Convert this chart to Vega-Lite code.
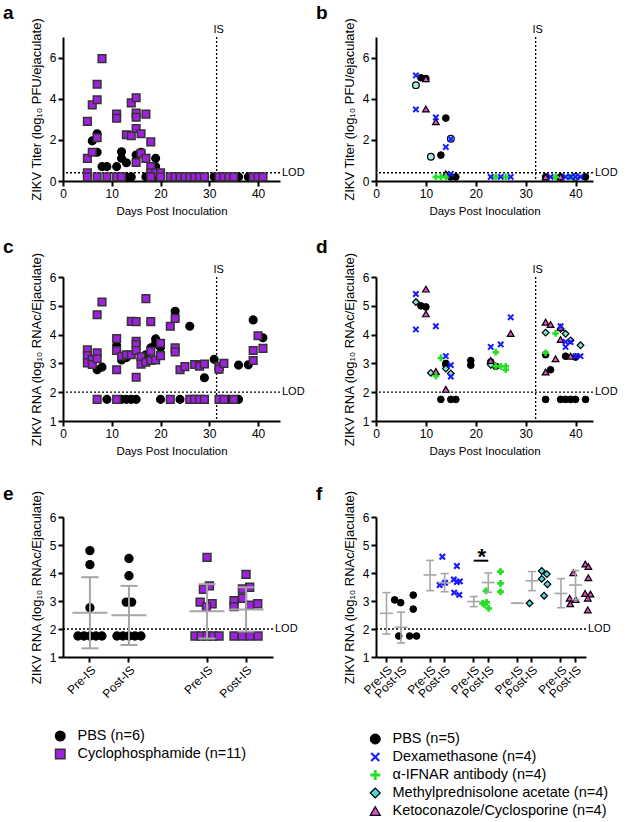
{
"$schema": "https://vega.github.io/schema/vega-lite/v6.json",
"background": "white",
"padding": {"left": 3, "top": 3, "right": 0, "bottom": 0},
"columns": 2,
"spacing": {"row": 96, "column": 96},
"bounds": "flush",
"resolve": {"scale": {"shape": "independent", "fill": "independent", "stroke": "independent", "strokeWidth": "independent"}},
"config": {
  "font": "Liberation Sans",
  "view": {"stroke": null},
  "axis": {"grid": false, "domainColor": "#000", "domainWidth": 2, "tickColor": "#000", "tickWidth": 2, "tickSize": 5, "labelColor": "#000", "labelFontSize": 12, "labelFont": "Liberation Sans", "titleFont": "Liberation Sans", "titleFontSize": 11.5, "titleFontWeight": "normal", "titleColor": "#000", "labelPadding": 2, "labelFlush": false, "labelOverlap": false},
  "axisY": {"titlePadding": 6, "titleFontSize": 13, "tickCount": 12},
  "axisX": {"titlePadding": 6},
  "title": {"fontSize": 19, "fontWeight": "bold", "anchor": "start", "frame": "group", "dx": -60, "offset": -5, "color": "#000", "font": "Liberation Sans"},
  "legend": {"labelFont": "Liberation Sans", "labelColor": "#000", "labelFontSize": 14.5, "labelLimit": 400, "rowPadding": 0, "padding": 0, "labelOffset": 10, "title": null, "clipHeight": 18}
},
"datasets": {
  "a": [
    {"g":"P","d":6,"v":1.95},{"g":"P","d":7,"v":2.3},{"g":"P","d":7,"v":1.4},{"g":"P","d":8,"v":0.7},{"g":"P","d":9,"v":0.7},{"g":"P","d":11,"v":0.7},{"g":"P","d":12,"v":1.42},{"g":"P","d":12,"v":1.1},{"g":"P","d":13,"v":0.89},{"g":"P","d":15,"v":1.26},{"g":"P","d":16,"v":1.4},{"g":"P","d":19,"v":1.1},{"g":"P","d":19,"v":0.7},{"g":"P","d":13,"v":0.2},{"g":"P","d":14,"v":0.2},{"g":"P","d":17,"v":0.2},{"g":"P","d":19,"v":0.2},{"g":"P","d":31,"v":0.2},{"g":"P","d":36,"v":0.2},{"g":"P","d":38,"v":0.2},
    {"g":"C","d":5,"v":2.9},{"g":"C","d":5,"v":1.1},{"g":"C","d":5,"v":0.4},{"g":"C","d":5,"v":0.2},{"g":"C","d":6,"v":3.7},{"g":"C","d":6,"v":1.4},{"g":"C","d":7,"v":4.7},{"g":"C","d":7,"v":3.95},{"g":"C","d":7,"v":2.1},{"g":"C","d":7,"v":0.2},{"g":"C","d":8,"v":5.95},{"g":"C","d":9,"v":0.2},{"g":"C","d":11,"v":3.25},{"g":"C","d":11,"v":3.05},{"g":"C","d":11,"v":0.2},{"g":"C","d":12,"v":0.2},{"g":"C","d":13,"v":2.25},{"g":"C","d":14,"v":3.8},{"g":"C","d":14,"v":2.2},{"g":"C","d":15,"v":4.05},{"g":"C","d":15,"v":3.3},{"g":"C","d":15,"v":3.1},{"g":"C","d":15,"v":2.55},{"g":"C","d":15,"v":0.9},{"g":"C","d":16,"v":2.3},{"g":"C","d":16,"v":1.35},{"g":"C","d":17,"v":3.25},{"g":"C","d":17,"v":1.1},{"g":"C","d":18,"v":1.9},{"g":"C","d":18,"v":0.7},{"g":"C","d":18,"v":0.4},{"g":"C","d":19,"v":0.4},{"g":"C","d":20,"v":0.4},{"g":"C","d":18,"v":0.2},{"g":"C","d":20,"v":0.2},{"g":"C","d":22,"v":0.2},{"g":"C","d":23,"v":0.2},{"g":"C","d":24,"v":0.2},{"g":"C","d":25,"v":0.2},{"g":"C","d":26,"v":0.2},{"g":"C","d":27,"v":0.2},{"g":"C","d":28,"v":0.2},{"g":"C","d":29,"v":0.2},{"g":"C","d":32,"v":0.2},{"g":"C","d":33,"v":0.2},{"g":"C","d":34,"v":0.2},{"g":"C","d":35,"v":0.2},{"g":"C","d":39,"v":0.2},{"g":"C","d":40,"v":0.2},{"g":"C","d":41,"v":0.2}
  ],
  "b": [
    {"g":"P","d":9,"v":5.02},{"g":"P","d":10,"v":4.98},{"g":"P","d":13,"v":1.26},{"g":"P","d":14,"v":3.06},{"g":"P","d":15,"v":0.2},{"g":"P","d":16,"v":0.2},{"g":"P","d":34,"v":0.2},{"g":"P","d":37,"v":0.2},{"g":"P","d":42,"v":0.2},
    {"g":"M","d":8,"v":4.66},{"g":"M","d":11,"v":1.18},{"g":"M","d":15,"v":2.05},{"g":"M","d":40,"v":0.2},
    {"g":"K","d":10,"v":4.97},{"g":"K","d":10,"v":3.5},{"g":"K","d":12,"v":2.88},{"g":"K","d":14,"v":0.35},{"g":"K","d":34,"v":0.2},{"g":"K","d":37,"v":0.2},
    {"g":"I","d":12,"v":0.2},{"g":"I","d":13,"v":0.2},{"g":"I","d":14,"v":0.2},{"g":"I","d":24,"v":0.2},{"g":"I","d":26,"v":0.2},{"g":"I","d":36,"v":0.2},{"g":"I","d":39,"v":0.2},
    {"g":"X","d":8,"v":5.13},{"g":"X","d":8,"v":3.48},{"g":"X","d":12,"v":3.09},{"g":"X","d":14,"v":1.65},{"g":"X","d":15,"v":2.04},{"g":"X","d":15,"v":0.35},{"g":"X","d":23,"v":0.2},{"g":"X","d":25,"v":0.2},{"g":"X","d":27,"v":0.2},{"g":"X","d":35,"v":0.2},{"g":"X","d":38,"v":0.2},{"g":"X","d":39,"v":0.2},{"g":"X","d":40,"v":0.2},{"g":"X","d":41,"v":0.2}
  ],
  "c": [
    {"g":"P","d":7,"v":2.78},{"g":"P","d":8,"v":2.87},{"g":"P","d":11,"v":3.61},{"g":"P","d":12,"v":3.12},{"g":"P","d":13,"v":3.2},{"g":"P","d":16,"v":3.15},{"g":"P","d":17,"v":3.3},{"g":"P","d":18,"v":3.54},{"g":"P","d":19,"v":3.85},{"g":"P","d":19,"v":3.7},{"g":"P","d":20,"v":3.55},{"g":"P","d":23,"v":4.81},{"g":"P","d":26,"v":4.29},{"g":"P","d":29,"v":2.5},{"g":"P","d":31,"v":3.14},{"g":"P","d":32,"v":2.8},{"g":"P","d":36,"v":2.94},{"g":"P","d":38,"v":2.95},{"g":"P","d":39,"v":4.51},{"g":"P","d":41,"v":3.89},
    {"g":"P","d":9,"v":1.75},{"g":"P","d":12,"v":1.75},{"g":"P","d":13,"v":1.75},{"g":"P","d":14,"v":1.75},{"g":"P","d":15,"v":1.75},{"g":"P","d":20,"v":1.75},{"g":"P","d":24,"v":1.75},{"g":"P","d":34,"v":1.75},{"g":"P","d":36,"v":1.75},
    {"g":"C","d":5,"v":3.47},{"g":"C","d":5,"v":3.27},{"g":"C","d":5,"v":3.02},{"g":"C","d":6,"v":3.14},{"g":"C","d":6,"v":2.96},{"g":"C","d":7,"v":4.69},{"g":"C","d":7,"v":3.37},{"g":"C","d":7,"v":3.16},{"g":"C","d":8,"v":5.13},{"g":"C","d":11,"v":3.86},{"g":"C","d":11,"v":3.45},{"g":"C","d":11,"v":2.78},{"g":"C","d":12,"v":3.25},{"g":"C","d":13,"v":3.3},{"g":"C","d":14,"v":3.3},{"g":"C","d":14,"v":4.46},{"g":"C","d":15,"v":4.45},{"g":"C","d":15,"v":3.77},{"g":"C","d":15,"v":3.65},{"g":"C","d":15,"v":3.45},{"g":"C","d":15,"v":2.52},{"g":"C","d":16,"v":3.23},{"g":"C","d":16,"v":2.97},{"g":"C","d":17,"v":5.25},{"g":"C","d":17,"v":3.04},{"g":"C","d":18,"v":4.45},{"g":"C","d":18,"v":3.42},{"g":"C","d":18,"v":3.1},{"g":"C","d":19,"v":3.12},{"g":"C","d":20,"v":3.7},{"g":"C","d":20,"v":3.27},{"g":"C","d":22,"v":4.29},{"g":"C","d":23,"v":4.56},{"g":"C","d":23,"v":3.54},{"g":"C","d":23,"v":3.4},{"g":"C","d":24,"v":2.78},{"g":"C","d":25,"v":2.89},{"g":"C","d":27,"v":2.96},{"g":"C","d":28,"v":2.96},{"g":"C","d":28,"v":2.9},{"g":"C","d":29,"v":2.98},{"g":"C","d":32,"v":2.9},{"g":"C","d":32,"v":2.8},{"g":"C","d":33,"v":3.0},{"g":"C","d":39,"v":3.45},{"g":"C","d":39,"v":3.1},{"g":"C","d":40,"v":3.96},{"g":"C","d":41,"v":3.52},
    {"g":"C","d":7,"v":1.75},{"g":"C","d":11,"v":1.75},{"g":"C","d":22,"v":1.75},{"g":"C","d":26,"v":1.75},{"g":"C","d":27,"v":1.75},{"g":"C","d":28,"v":1.75},{"g":"C","d":29,"v":1.75},{"g":"C","d":32,"v":1.75},{"g":"C","d":33,"v":1.75},{"g":"C","d":35,"v":1.75}
  ],
  "d": [
    {"g":"P","d":9,"v":5.0},{"g":"P","d":10,"v":4.96},{"g":"P","d":14,"v":3.0},{"g":"P","d":14,"v":2.95},{"g":"P","d":19,"v":3.1},{"g":"P","d":19,"v":2.94},{"g":"P","d":23,"v":3.05},{"g":"P","d":24,"v":2.9},{"g":"P","d":34,"v":3.3},{"g":"P","d":35,"v":2.78},{"g":"P","d":38,"v":3.25},{"g":"P","d":40,"v":3.22},
    {"g":"P","d":13,"v":1.75},{"g":"P","d":15,"v":1.75},{"g":"P","d":16,"v":1.75},{"g":"P","d":34,"v":1.75},{"g":"P","d":37,"v":1.75},{"g":"P","d":38,"v":1.75},{"g":"P","d":39,"v":1.75},{"g":"P","d":40,"v":1.75},{"g":"P","d":42,"v":1.75},
    {"g":"M","d":8,"v":5.13},{"g":"M","d":11,"v":2.67},{"g":"M","d":14,"v":2.82},{"g":"M","d":15,"v":2.65},{"g":"M","d":23,"v":2.95},{"g":"M","d":34,"v":4.07},{"g":"M","d":37,"v":4.2},{"g":"M","d":38,"v":4.03},{"g":"M","d":39,"v":3.8},{"g":"M","d":41,"v":3.63},
    {"g":"K","d":10,"v":5.58},{"g":"K","d":10,"v":4.72},{"g":"K","d":12,"v":2.72},{"g":"K","d":14,"v":2.1},{"g":"K","d":23,"v":3.1},{"g":"K","d":27,"v":4.04},{"g":"K","d":34,"v":4.43},{"g":"K","d":34,"v":2.7},{"g":"K","d":35,"v":4.35},{"g":"K","d":36,"v":3.16},{"g":"K","d":37,"v":4.25},{"g":"K","d":37,"v":3.83},{"g":"K","d":39,"v":3.25},
    {"g":"I","d":12,"v":2.56},{"g":"I","d":13,"v":3.19},{"g":"I","d":24,"v":3.39},{"g":"I","d":24,"v":2.9},{"g":"I","d":25,"v":2.9},{"g":"I","d":26,"v":2.9},{"g":"I","d":26,"v":2.78},{"g":"I","d":34,"v":3.37},{"g":"I","d":36,"v":4.04},
    {"g":"X","d":8,"v":5.41},{"g":"X","d":8,"v":4.18},{"g":"X","d":12,"v":4.29},{"g":"X","d":14,"v":3.25},{"g":"X","d":15,"v":2.94},{"g":"X","d":15,"v":2.54},{"g":"X","d":23,"v":3.57},{"g":"X","d":25,"v":3.66},{"g":"X","d":27,"v":4.6},{"g":"X","d":37,"v":4.29},{"g":"X","d":38,"v":3.57},{"g":"X","d":38,"v":3.75},{"g":"X","d":39,"v":3.74},{"g":"X","d":40,"v":3.25},{"g":"X","d":41,"v":3.25}
  ],
  "e": [
    {"g":"P","cat":"PBS|Pre-IS","v":4.8,"j":0},{"g":"P","cat":"PBS|Pre-IS","v":4.3,"j":0},{"g":"P","cat":"PBS|Pre-IS","v":2.76,"j":0},{"g":"P","cat":"PBS|Pre-IS","v":1.75,"j":-2},{"g":"P","cat":"PBS|Pre-IS","v":1.75,"j":-1},{"g":"P","cat":"PBS|Pre-IS","v":1.75,"j":0},{"g":"P","cat":"PBS|Pre-IS","v":1.75,"j":1},{"g":"P","cat":"PBS|Pre-IS","v":1.75,"j":2},
    {"g":"P","cat":"PBS|Post-IS","v":4.52,"j":0},{"g":"P","cat":"PBS|Post-IS","v":3.9,"j":0},{"g":"P","cat":"PBS|Post-IS","v":2.96,"j":-0.45},{"g":"P","cat":"PBS|Post-IS","v":2.96,"j":0.45},{"g":"P","cat":"PBS|Post-IS","v":1.75,"j":-2},{"g":"P","cat":"PBS|Post-IS","v":1.75,"j":-1},{"g":"P","cat":"PBS|Post-IS","v":1.75,"j":0},{"g":"P","cat":"PBS|Post-IS","v":1.75,"j":1},{"g":"P","cat":"PBS|Post-IS","v":1.75,"j":2},
    {"g":"C","cat":"Cyc|Pre-IS","v":4.56,"j":0},{"g":"C","cat":"Cyc|Pre-IS","v":3.54,"j":0.4},{"g":"C","cat":"Cyc|Pre-IS","v":3.42,"j":-0.6},{"g":"C","cat":"Cyc|Pre-IS","v":2.96,"j":-1.15},{"g":"C","cat":"Cyc|Pre-IS","v":2.9,"j":0.85},{"g":"C","cat":"Cyc|Pre-IS","v":2.79,"j":-0.1},{"g":"C","cat":"Cyc|Pre-IS","v":1.75,"j":-2},{"g":"C","cat":"Cyc|Pre-IS","v":1.75,"j":-1},{"g":"C","cat":"Cyc|Pre-IS","v":1.75,"j":0},{"g":"C","cat":"Cyc|Pre-IS","v":1.75,"j":1},{"g":"C","cat":"Cyc|Pre-IS","v":1.75,"j":2},
    {"g":"C","cat":"Cyc|Post-IS","v":3.95,"j":0},{"g":"C","cat":"Cyc|Post-IS","v":3.49,"j":0.6},{"g":"C","cat":"Cyc|Post-IS","v":3.43,"j":-0.6},{"g":"C","cat":"Cyc|Post-IS","v":3.1,"j":-0.6},{"g":"C","cat":"Cyc|Post-IS","v":3.01,"j":-2},{"g":"C","cat":"Cyc|Post-IS","v":2.8,"j":-2},{"g":"C","cat":"Cyc|Post-IS","v":2.85,"j":0.6},{"g":"C","cat":"Cyc|Post-IS","v":2.9,"j":1.95},{"g":"C","cat":"Cyc|Post-IS","v":1.75,"j":-2},{"g":"C","cat":"Cyc|Post-IS","v":1.75,"j":-0.65},{"g":"C","cat":"Cyc|Post-IS","v":1.75,"j":0.65},{"g":"C","cat":"Cyc|Post-IS","v":1.75,"j":2}
  ],
  "es": [
    {"cat":"PBS|Pre-IS","m":2.58,"lo":1.31,"hi":3.85},{"cat":"PBS|Post-IS","m":2.49,"lo":1.43,"hi":3.54},{"cat":"Cyc|Pre-IS","m":2.63,"lo":1.66,"hi":3.6},{"cat":"Cyc|Post-IS","m":2.7,"lo":1.91,"hi":3.49}
  ],
  "f": [
    {"g":"P","cat":"PBS|Pre-IS","v":3.04,"j":-0.67},{"g":"P","cat":"PBS|Pre-IS","v":2.94,"j":0.33},{"g":"P","cat":"PBS|Pre-IS","v":1.75,"j":0},
    {"g":"P","cat":"PBS|Post-IS","v":3.21,"j":0},{"g":"P","cat":"PBS|Post-IS","v":2.71,"j":0},{"g":"P","cat":"PBS|Post-IS","v":1.75,"j":-0.6},{"g":"P","cat":"PBS|Post-IS","v":1.75,"j":0.55},
    {"g":"X","cat":"Dex|Pre-IS","v":4.58,"j":0},{"g":"X","cat":"Dex|Pre-IS","v":3.57,"j":-0.45},{"g":"X","cat":"Dex|Pre-IS","v":3.65,"j":0.45},
    {"g":"X","cat":"Dex|Post-IS","v":4.25,"j":0},{"g":"X","cat":"Dex|Post-IS","v":3.77,"j":-0.5},{"g":"X","cat":"Dex|Post-IS","v":3.7,"j":0.5},{"g":"X","cat":"Dex|Post-IS","v":3.68,"j":0},{"g":"X","cat":"Dex|Post-IS","v":3.3,"j":-0.45},{"g":"X","cat":"Dex|Post-IS","v":3.22,"j":0.4},
    {"g":"I","cat":"IFNAR|Pre-IS","v":3.36,"j":0},{"g":"I","cat":"IFNAR|Pre-IS","v":2.95,"j":0.1},{"g":"I","cat":"IFNAR|Pre-IS","v":2.92,"j":-0.55},{"g":"I","cat":"IFNAR|Pre-IS","v":2.88,"j":-0.25},{"g":"I","cat":"IFNAR|Pre-IS","v":2.74,"j":0.45},
    {"g":"I","cat":"IFNAR|Post-IS","v":4.05,"j":0},{"g":"I","cat":"IFNAR|Post-IS","v":3.63,"j":0},{"g":"I","cat":"IFNAR|Post-IS","v":3.33,"j":0},
    {"g":"M","cat":"MPA|Pre-IS","v":2.92,"j":0},
    {"g":"M","cat":"MPA|Post-IS","v":4.07,"j":-0.4},{"g":"M","cat":"MPA|Post-IS","v":3.96,"j":0.45},{"g":"M","cat":"MPA|Post-IS","v":3.79,"j":-0.4},{"g":"M","cat":"MPA|Post-IS","v":3.6,"j":0.55},{"g":"M","cat":"MPA|Post-IS","v":3.19,"j":0},
    {"g":"K","cat":"KC|Pre-IS","v":4.01,"j":0},{"g":"K","cat":"KC|Pre-IS","v":3.1,"j":-0.6},{"g":"K","cat":"KC|Pre-IS","v":3.05,"j":0.4},{"g":"K","cat":"KC|Pre-IS","v":2.9,"j":-0.5},
    {"g":"K","cat":"KC|Post-IS","v":4.32,"j":-0.4},{"g":"K","cat":"KC|Post-IS","v":4.23,"j":0.1},{"g":"K","cat":"KC|Post-IS","v":3.83,"j":0.1},{"g":"K","cat":"KC|Post-IS","v":3.27,"j":-0.45},{"g":"K","cat":"KC|Post-IS","v":3.25,"j":0.45},{"g":"K","cat":"KC|Post-IS","v":3.1,"j":0},{"g":"K","cat":"KC|Post-IS","v":2.68,"j":0}
  ],
  "fs": [
    {"cat":"PBS|Pre-IS","m":2.56,"lo":1.82,"hi":3.3},{"cat":"PBS|Post-IS","m":2.06,"lo":1.5,"hi":2.6},{"cat":"Dex|Pre-IS","m":3.93,"lo":3.37,"hi":4.45},{"cat":"Dex|Post-IS","m":3.65,"lo":3.33,"hi":3.98},{"cat":"IFNAR|Pre-IS","m":2.98,"lo":2.8,"hi":3.16},{"cat":"IFNAR|Post-IS","m":3.66,"lo":3.31,"hi":4.0},{"cat":"MPA|Pre-IS","m":2.92,"lo":2.92,"hi":2.92},{"cat":"MPA|Post-IS","m":3.72,"lo":3.37,"hi":4.05},{"cat":"KC|Pre-IS","m":3.27,"lo":2.76,"hi":3.8},{"cat":"KC|Post-IS","m":3.57,"lo":3.05,"hi":4.09}
  ]
},
"concat": [
  {
    "width": 217, "height": 144,
    "title": {"text": "a"},
    "layer": [
      {"data": {"values": [{}]}, "mark": {"type": "rule", "strokeDash": [2, 2], "strokeWidth": 1.3, "color": "#000"}, "encoding": {"x": {"datum": 31.5}}},
      {"data": {"values": [{}]}, "mark": {"type": "text", "text": "IS", "align": "center", "baseline": "bottom", "dx": 2, "dy": -2, "fontSize": 11, "color": "#000"}, "encoding": {"x": {"datum": 31.5}, "y": {"datum": 7}}},
      {"data": {"values": [{}]}, "mark": {"type": "rule", "strokeDash": [2, 2], "strokeWidth": 1.3, "color": "#000"}, "encoding": {"y": {"datum": 0.4}}},
      {"data": {"values": [{}]}, "mark": {"type": "text", "text": "LOD", "align": "left", "baseline": "middle", "dx": 2, "fontSize": 11, "color": "#000"}, "encoding": {"x": {"value": "width"}, "y": {"datum": 0.4}}},
      {"data": {"name": "a"}, "mark": {"type": "point", "filled": true, "size": 58, "strokeWidth": 1.5, "opacity": 1},
       "encoding": {
        "x": {"field": "d", "type": "quantitative", "scale": {"domain": [0, 44.5], "nice": false, "zero": false}, "axis": {"values": [0, 10, 20, 30, 40], "tickCount": 12, "format": "d", "labelOverlap": false}, "title": "Days Post Inoculation"},
        "y": {"field": "v", "type": "quantitative", "scale": {"domain": [0, 7], "nice": false}, "axis": {"values": [0, 2, 4, 6], "tickCount": 12, "format": "d", "labelOverlap": false}, "title": "ZIKV Titer (log₁₀ PFU/ejaculate)"},
        "shape": {"field": "g", "type": "nominal", "scale": {"domain": ["P", "C"], "range": ["circle", "square"]}, "legend": null},
        "fill": {"field": "g", "type": "nominal", "scale": {"domain": ["P", "C"], "range": ["#000000", "#a020e0"]}, "legend": null},
        "stroke": {"field": "g", "type": "nominal", "scale": {"domain": ["P", "C"], "range": ["#000000", "#333333"]}, "legend": null}
       }}
    ]
  },
  {
    "width": 217, "height": 144,
    "title": {"text": "b"},
    "layer": [
      {"data": {"values": [{}]}, "mark": {"type": "rule", "strokeDash": [2, 2], "strokeWidth": 1.3, "color": "#000"}, "encoding": {"x": {"datum": 32}}},
      {"data": {"values": [{}]}, "mark": {"type": "text", "text": "IS", "align": "center", "baseline": "bottom", "dx": 2, "dy": -2, "fontSize": 11, "color": "#000"}, "encoding": {"x": {"datum": 32}, "y": {"datum": 7}}},
      {"data": {"values": [{}]}, "mark": {"type": "rule", "strokeDash": [2, 2], "strokeWidth": 1.3, "color": "#000"}, "encoding": {"y": {"datum": 0.4}}},
      {"data": {"values": [{}]}, "mark": {"type": "text", "text": "LOD", "align": "left", "baseline": "middle", "dx": 2, "fontSize": 11, "color": "#000"}, "encoding": {"x": {"value": "width"}, "y": {"datum": 0.4}}},
      {"data": {"name": "b"}, "mark": {"type": "point", "filled": true, "size": 45, "opacity": 1},
       "encoding": {
        "x": {"field": "d", "type": "quantitative", "scale": {"domain": [0, 43.5], "nice": false, "zero": false}, "axis": {"values": [0, 10, 20, 30, 40], "tickCount": 12, "format": "d", "labelOverlap": false}, "title": "Days Post Inoculation"},
        "y": {"field": "v", "type": "quantitative", "scale": {"domain": [0, 7], "nice": false}, "axis": {"values": [0, 2, 4, 6], "tickCount": 12, "format": "d", "labelOverlap": false}, "title": "ZIKV Titer (log₁₀ PFU/ejaculate)"},
        "shape": {"field": "g", "type": "nominal", "scale": {"domain": ["P", "X", "I", "M", "K"], "range": ["circle", "M-0.8,-0.8L0.8,0.8M0.8,-0.8L-0.8,0.8", "M-1,0L1,0M0,-1L0,1", "circle", "triangle-up"]}, "legend": null},
        "fill": {"field": "g", "type": "nominal", "scale": {"domain": ["P", "X", "I", "M", "K"], "range": ["#000000", "#1a1aff", "#22e022", "#a8ece4", "#e04ec8"]}, "legend": null},
        "stroke": {"field": "g", "type": "nominal", "scale": {"domain": ["P", "X", "I", "M", "K"], "range": ["#000000", "#1a1aff", "#22e022", "#000000", "#000000"]}, "legend": null},
        "strokeWidth": {"field": "g", "type": "nominal", "scale": {"type": "ordinal", "domain": ["P", "X", "I", "M", "K"], "range": [1, 2, 2.5, 1.2, 1.2]}, "legend": null}
       }}
    ]
  },
  {
    "width": 217, "height": 144,
    "title": {"text": "c"},
    "layer": [
      {"data": {"values": [{}]}, "mark": {"type": "rule", "strokeDash": [2, 2], "strokeWidth": 1.3, "color": "#000"}, "encoding": {"x": {"datum": 31.5}}},
      {"data": {"values": [{}]}, "mark": {"type": "text", "text": "IS", "align": "center", "baseline": "bottom", "dx": 2, "dy": -2, "fontSize": 11, "color": "#000"}, "encoding": {"x": {"datum": 31.5}, "y": {"datum": 6}}},
      {"data": {"values": [{}]}, "mark": {"type": "rule", "strokeDash": [2, 2], "strokeWidth": 1.3, "color": "#000"}, "encoding": {"y": {"datum": 2}}},
      {"data": {"values": [{}]}, "mark": {"type": "text", "text": "LOD", "align": "left", "baseline": "middle", "dx": 2, "fontSize": 11, "color": "#000"}, "encoding": {"x": {"value": "width"}, "y": {"datum": 2}}},
      {"data": {"name": "c"}, "mark": {"type": "point", "filled": true, "size": 58, "strokeWidth": 1.5, "opacity": 1},
       "encoding": {
        "x": {"field": "d", "type": "quantitative", "scale": {"domain": [0, 44.5], "nice": false, "zero": false}, "axis": {"values": [0, 10, 20, 30, 40], "tickCount": 12, "format": "d", "labelOverlap": false}, "title": "Days Post Inoculation"},
        "y": {"field": "v", "type": "quantitative", "scale": {"domain": [1, 6], "nice": false, "zero": false}, "axis": {"values": [1, 2, 3, 4, 5, 6], "tickCount": 12, "format": "d", "labelOverlap": false}, "title": "ZIKV RNA (log₁₀ RNAc/Ejaculate)"},
        "shape": {"field": "g", "type": "nominal", "scale": {"domain": ["P", "C"], "range": ["circle", "square"]}, "legend": null},
        "fill": {"field": "g", "type": "nominal", "scale": {"domain": ["P", "C"], "range": ["#000000", "#a020e0"]}, "legend": null},
        "stroke": {"field": "g", "type": "nominal", "scale": {"domain": ["P", "C"], "range": ["#000000", "#333333"]}, "legend": null}
       }}
    ]
  },
  {
    "width": 217, "height": 144,
    "title": {"text": "d"},
    "layer": [
      {"data": {"values": [{}]}, "mark": {"type": "rule", "strokeDash": [2, 2], "strokeWidth": 1.3, "color": "#000"}, "encoding": {"x": {"datum": 32}}},
      {"data": {"values": [{}]}, "mark": {"type": "text", "text": "IS", "align": "center", "baseline": "bottom", "dx": 2, "dy": -2, "fontSize": 11, "color": "#000"}, "encoding": {"x": {"datum": 32}, "y": {"datum": 6}}},
      {"data": {"values": [{}]}, "mark": {"type": "rule", "strokeDash": [2, 2], "strokeWidth": 1.3, "color": "#000"}, "encoding": {"y": {"datum": 2}}},
      {"data": {"values": [{}]}, "mark": {"type": "text", "text": "LOD", "align": "left", "baseline": "middle", "dx": 2, "fontSize": 11, "color": "#000"}, "encoding": {"x": {"value": "width"}, "y": {"datum": 2}}},
      {"data": {"name": "d"}, "mark": {"type": "point", "filled": true, "size": 45, "opacity": 1},
       "encoding": {
        "x": {"field": "d", "type": "quantitative", "scale": {"domain": [0, 43.5], "nice": false, "zero": false}, "axis": {"values": [0, 10, 20, 30, 40], "tickCount": 12, "format": "d", "labelOverlap": false}, "title": "Days Post Inoculation"},
        "y": {"field": "v", "type": "quantitative", "scale": {"domain": [1, 6], "nice": false, "zero": false}, "axis": {"values": [1, 2, 3, 4, 5, 6], "tickCount": 12, "format": "d", "labelOverlap": false}, "title": "ZIKV RNA (log₁₀ RNAc/Ejaculate)"},
        "shape": {"field": "g", "type": "nominal", "scale": {"domain": ["P", "X", "I", "M", "K"], "range": ["circle", "M-0.8,-0.8L0.8,0.8M0.8,-0.8L-0.8,0.8", "M-1,0L1,0M0,-1L0,1", "diamond", "triangle-up"]}, "legend": null},
        "fill": {"field": "g", "type": "nominal", "scale": {"domain": ["P", "X", "I", "M", "K"], "range": ["#000000", "#1a1aff", "#22e022", "#7fe3dd", "#e04ec8"]}, "legend": null},
        "stroke": {"field": "g", "type": "nominal", "scale": {"domain": ["P", "X", "I", "M", "K"], "range": ["#000000", "#1a1aff", "#22e022", "#000000", "#000000"]}, "legend": null},
        "strokeWidth": {"field": "g", "type": "nominal", "scale": {"type": "ordinal", "domain": ["P", "X", "I", "M", "K"], "range": [1, 2, 2.5, 1.2, 1.2]}, "legend": null}
       }}
    ]
  },
  {
    "width": 210, "height": 140,
    "title": {"text": "e", "offset": -14},
    "layer": [
      {"data": {"values": [{}]}, "mark": {"type": "rule", "strokeDash": [2, 2], "strokeWidth": 1.3, "color": "#000"}, "encoding": {"y": {"datum": 2}}},
      {"data": {"values": [{}]}, "mark": {"type": "text", "text": "LOD", "align": "left", "baseline": "middle", "dx": 2, "fontSize": 11, "color": "#000"}, "encoding": {"x": {"value": "width"}, "y": {"datum": 2}}},
      {"data": {"name": "e"}, "mark": {"type": "point", "filled": true, "size": 62, "strokeWidth": 1.5, "opacity": 1},
       "encoding": {
        "x": {"field": "cat", "type": "nominal", "scale": {"type": "band", "domain": ["PBS|Pre-IS", "PBS|Post-IS", "gap", "Cyc|Pre-IS", "Cyc|Post-IS"], "paddingInner": 0, "paddingOuter": 0.19}, "axis": {"values": ["PBS|Pre-IS", "PBS|Post-IS", "Cyc|Pre-IS", "Cyc|Post-IS"], "labelExpr": "split(datum.value, '|')[1]", "labelAngle": -45, "labelOverlap": false}, "title": null},
        "xOffset": {"field": "j", "type": "quantitative", "scale": {"domain": [-1, 1], "range": [13.5, 25.5]}},
        "y": {"field": "v", "type": "quantitative", "scale": {"domain": [1, 6], "nice": false, "zero": false}, "axis": {"values": [1, 2, 3, 4, 5, 6], "tickCount": 12, "format": "d", "labelOverlap": false}, "title": "ZIKV RNA (log₁₀ RNAc/Ejaculate)"},
        "shape": {"field": "g", "type": "nominal", "scale": {"domain": ["P", "C"], "range": ["circle", "square"]}, "legend": {"orient": "none", "legendX": -10, "legendY": 210, "labelExpr": "datum.label == 'P' ? 'PBS (n=6)' : 'Cyclophosphamide (n=11)'", "symbolSize": 90, "direction": "vertical"}},
        "fill": {"field": "g", "type": "nominal", "scale": {"domain": ["P", "C"], "range": ["#000000", "#a020e0"]}, "legend": {"orient": "none", "legendX": -10, "legendY": 210, "labelExpr": "datum.label == 'P' ? 'PBS (n=6)' : 'Cyclophosphamide (n=11)'", "symbolSize": 90, "direction": "vertical"}},
        "stroke": {"field": "g", "type": "nominal", "scale": {"domain": ["P", "C"], "range": ["#000000", "#333333"]}, "legend": {"orient": "none", "legendX": -10, "legendY": 210, "labelExpr": "datum.label == 'P' ? 'PBS (n=6)' : 'Cyclophosphamide (n=11)'", "symbolSize": 90, "direction": "vertical"}}
       }},
      {"data": {"name": "es"}, "mark": {"type": "rule", "color": "#a6a6a6", "strokeWidth": 2},
       "encoding": {"x": {"field": "cat", "type": "nominal", "title": null}, "y": {"field": "lo", "type": "quantitative", "title": "ZIKV RNA (log₁₀ RNAc/Ejaculate)"}, "y2": {"field": "hi"}}},
      {"data": {"name": "es"}, "mark": {"type": "tick", "color": "#a6a6a6", "thickness": 2, "size": 17, "opacity": 1},
       "encoding": {"x": {"field": "cat", "type": "nominal", "title": null}, "y": {"field": "hi", "type": "quantitative", "title": "ZIKV RNA (log₁₀ RNAc/Ejaculate)"}}},
      {"data": {"name": "es"}, "mark": {"type": "tick", "color": "#a6a6a6", "thickness": 2, "size": 17, "opacity": 1},
       "encoding": {"x": {"field": "cat", "type": "nominal", "title": null}, "y": {"field": "lo", "type": "quantitative", "title": "ZIKV RNA (log₁₀ RNAc/Ejaculate)"}}},
      {"data": {"name": "es"}, "mark": {"type": "tick", "color": "#a6a6a6", "thickness": 2, "size": 35, "opacity": 1},
       "encoding": {"x": {"field": "cat", "type": "nominal", "title": null}, "y": {"field": "m", "type": "quantitative", "title": "ZIKV RNA (log₁₀ RNAc/Ejaculate)"}}}
    ]
  },
  {
    "width": 210, "height": 140,
    "title": {"text": "f", "offset": -14},
    "layer": [
      {"data": {"values": [{}]}, "mark": {"type": "rule", "strokeDash": [2, 2], "strokeWidth": 1.3, "color": "#000"}, "encoding": {"y": {"datum": 2}}},
      {"data": {"values": [{}]}, "mark": {"type": "text", "text": "LOD", "align": "left", "baseline": "middle", "dx": 2, "fontSize": 11, "color": "#000"}, "encoding": {"x": {"value": "width"}, "y": {"datum": 2}}},
      {"data": {"name": "f"}, "mark": {"type": "point", "filled": true, "size": 45, "opacity": 1},
       "encoding": {
        "x": {"field": "cat", "type": "nominal", "scale": {"type": "band", "domain": ["PBS|Pre-IS", "PBS|Post-IS", "g1", "Dex|Pre-IS", "Dex|Post-IS", "g2", "IFNAR|Pre-IS", "IFNAR|Post-IS", "g3", "MPA|Pre-IS", "MPA|Post-IS", "g4", "KC|Pre-IS", "KC|Post-IS"], "paddingInner": 0, "paddingOuter": 0.22}, "axis": {"values": ["PBS|Pre-IS", "PBS|Post-IS", "Dex|Pre-IS", "Dex|Post-IS", "IFNAR|Pre-IS", "IFNAR|Post-IS", "MPA|Pre-IS", "MPA|Post-IS", "KC|Pre-IS", "KC|Post-IS"], "labelExpr": "split(datum.value, '|')[1]", "labelAngle": -45, "labelOverlap": false}, "title": null},
        "xOffset": {"field": "j", "type": "quantitative", "scale": {"domain": [-1, 1], "range": [1.27, 13.27]}},
        "y": {"field": "v", "type": "quantitative", "scale": {"domain": [1, 6], "nice": false, "zero": false}, "axis": {"values": [1, 2, 3, 4, 5, 6], "tickCount": 12, "format": "d", "labelOverlap": false}, "title": "ZIKV RNA (log₁₀ RNAc/Ejaculate)"},
        "shape": {"field": "g", "type": "nominal", "scale": {"domain": ["P", "X", "I", "M", "K"], "range": ["circle", "M-0.8,-0.8L0.8,0.8M0.8,-0.8L-0.8,0.8", "M-1,0L1,0M0,-1L0,1", "diamond", "triangle-up"]}, "legend": {"orient": "none", "legendX": -8, "legendY": 213, "labelExpr": "datum.label == 'P' ? 'PBS (n=5)' : datum.label == 'X' ? 'Dexamethasone (n=4)' : datum.label == 'I' ? 'α-IFNAR antibody (n=4)' : datum.label == 'M' ? 'Methylprednisolone acetate (n=4)' : 'Ketoconazole/Cyclosporine (n=4)'", "symbolSize": 100, "direction": "vertical"}},
        "fill": {"field": "g", "type": "nominal", "scale": {"domain": ["P", "X", "I", "M", "K"], "range": ["#000000", "#1a1aff", "#22e022", "#4fd6d6", "#e04ec8"]}, "legend": {"orient": "none", "legendX": -8, "legendY": 213, "labelExpr": "datum.label == 'P' ? 'PBS (n=5)' : datum.label == 'X' ? 'Dexamethasone (n=4)' : datum.label == 'I' ? 'α-IFNAR antibody (n=4)' : datum.label == 'M' ? 'Methylprednisolone acetate (n=4)' : 'Ketoconazole/Cyclosporine (n=4)'", "symbolSize": 100, "direction": "vertical"}},
        "stroke": {"field": "g", "type": "nominal", "scale": {"domain": ["P", "X", "I", "M", "K"], "range": ["#000000", "#1a1aff", "#22e022", "#000000", "#000000"]}, "legend": {"orient": "none", "legendX": -8, "legendY": 213, "labelExpr": "datum.label == 'P' ? 'PBS (n=5)' : datum.label == 'X' ? 'Dexamethasone (n=4)' : datum.label == 'I' ? 'α-IFNAR antibody (n=4)' : datum.label == 'M' ? 'Methylprednisolone acetate (n=4)' : 'Ketoconazole/Cyclosporine (n=4)'", "symbolSize": 100, "direction": "vertical"}},
        "strokeWidth": {"field": "g", "type": "nominal", "scale": {"type": "ordinal", "domain": ["P", "X", "I", "M", "K"], "range": [1, 2.2, 2.8, 1.2, 1.2]}, "legend": {"orient": "none", "legendX": -8, "legendY": 213, "labelExpr": "datum.label == 'P' ? 'PBS (n=5)' : datum.label == 'X' ? 'Dexamethasone (n=4)' : datum.label == 'I' ? 'α-IFNAR antibody (n=4)' : datum.label == 'M' ? 'Methylprednisolone acetate (n=4)' : 'Ketoconazole/Cyclosporine (n=4)'", "symbolSize": 100, "direction": "vertical"}}
       }},
      {"data": {"name": "fs"}, "mark": {"type": "rule", "color": "#a6a6a6", "strokeWidth": 1.6},
       "encoding": {"x": {"field": "cat", "type": "nominal", "title": null}, "y": {"field": "lo", "type": "quantitative", "title": "ZIKV RNA (log₁₀ RNAc/Ejaculate)"}, "y2": {"field": "hi"}}},
      {"data": {"name": "fs"}, "mark": {"type": "tick", "color": "#a6a6a6", "thickness": 1.6, "size": 8, "opacity": 1},
       "encoding": {"x": {"field": "cat", "type": "nominal", "title": null}, "y": {"field": "hi", "type": "quantitative", "title": "ZIKV RNA (log₁₀ RNAc/Ejaculate)"}}},
      {"data": {"name": "fs"}, "mark": {"type": "tick", "color": "#a6a6a6", "thickness": 1.6, "size": 8, "opacity": 1},
       "encoding": {"x": {"field": "cat", "type": "nominal", "title": null}, "y": {"field": "lo", "type": "quantitative", "title": "ZIKV RNA (log₁₀ RNAc/Ejaculate)"}}},
      {"data": {"name": "fs"}, "mark": {"type": "tick", "color": "#a6a6a6", "thickness": 1.6, "size": 13, "opacity": 1},
       "encoding": {"x": {"field": "cat", "type": "nominal", "title": null}, "y": {"field": "m", "type": "quantitative", "title": "ZIKV RNA (log₁₀ RNAc/Ejaculate)"}}},
      {"data": {"values": [{}]}, "mark": {"type": "rule", "color": "#000", "strokeWidth": 2}, "encoding": {"x": {"datum": "IFNAR|Pre-IS"}, "x2": {"datum": "IFNAR|Post-IS"}, "y": {"datum": 4.44}}},
      {"data": {"values": [{}]}, "mark": {"type": "text", "text": "*", "fontSize": 22, "fontWeight": "bold", "align": "center", "baseline": "alphabetic", "dx": 8, "color": "#000"}, "encoding": {"x": {"datum": "IFNAR|Pre-IS"}, "y": {"datum": 4.33}}}
    ]
  }
]
}
